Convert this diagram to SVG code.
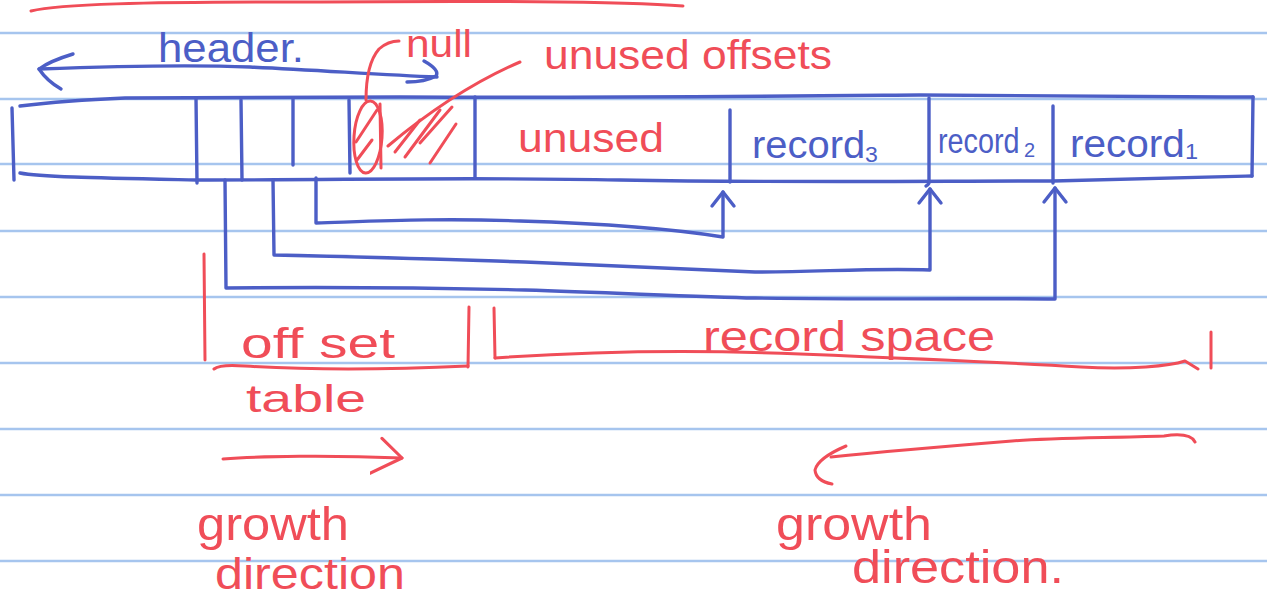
<svg xmlns="http://www.w3.org/2000/svg" width="1267" height="605" viewBox="0 0 1267 605">
  <defs>
    <style>
      .rule { stroke: #a6c5ee; stroke-width: 2.5; fill: none; }
      .blue { fill: none; stroke: #4c5ec6; stroke-width: 3.4; stroke-linecap: round; stroke-linejoin: round; }
      .red { fill: none; stroke: #f04d58; stroke-width: 3; stroke-linecap: round; stroke-linejoin: round; }
      .tblue { fill: #4c5ec6; font-family: "Liberation Sans", "DejaVu Sans", sans-serif; }
      .tred { fill: #f04d58; font-family: "Liberation Sans", "DejaVu Sans", sans-serif; }
    </style>
    <marker id="chevron-blue" markerUnits="userSpaceOnUse" markerWidth="30" markerHeight="30" viewBox="-16 -15 20 30" refX="0" refY="0" orient="auto">
      <path d="M-14,-11 L0,0 L-14,11" fill="none" stroke="#4c5ec6" stroke-width="3.4" stroke-linecap="round" stroke-linejoin="round"/>
    </marker>
    <marker id="chevron-red" markerUnits="userSpaceOnUse" markerWidth="40" markerHeight="50" viewBox="-26 -24 30 48" refX="0" refY="0" orient="auto">
      <path d="M-20,-18 L0,0 L-38,20" fill="none" stroke="#f04d58" stroke-width="3" stroke-linecap="round" stroke-linejoin="round"/>
    </marker>
  </defs>

  <!-- ruled notebook paper -->
  <rect width="1267" height="605" fill="#ffffff"/>
  <g id="paper">
    <line class="rule" x1="0" y1="33" x2="1267" y2="33"/>
    <line class="rule" x1="0" y1="99" x2="1267" y2="99"/>
    <line class="rule" x1="0" y1="164" x2="1267" y2="164"/>
    <line class="rule" x1="0" y1="231" x2="1267" y2="231"/>
    <line class="rule" x1="0" y1="297" x2="1267" y2="297"/>
    <line class="rule" x1="0" y1="363" x2="1267" y2="363"/>
    <line class="rule" x1="0" y1="429" x2="1267" y2="429"/>
    <line class="rule" x1="0" y1="495" x2="1267" y2="495"/>
    <line class="rule" x1="0" y1="561" x2="1267" y2="561"/>
  </g>

  <!-- stray red stroke along the top edge -->
  <path class="red" d="M31,11 C60,4 140,2 300,2 C480,1 620,1 683,6"/>

  <!-- header span -->
  <g id="header">
    <text class="tblue" x="158" y="62" font-size="40" textLength="146" lengthAdjust="spacingAndGlyphs">header.</text>
    <path class="blue" d="M39,69 C120,66 200,65 250,67 C320,70 380,75 437,77"/>
    <path class="blue" d="M73,54 Q50,61 39,69 Q47,81 61,89"/>
    <path class="blue" d="M424,61 Q440,70 436,76 Q425,82 407,82"/>
  </g>

  <!-- page block outline -->
  <g id="page">
    <path class="blue" d="M20,106 C60,101 100,99 125,98 L400,97 C600,98 800,96 920,95 C1050,96 1150,97 1253,97"/>
    <path class="blue" d="M12,108 L14,180"/>
    <path class="blue" d="M1253,97 L1252,176"/>
    <path class="blue" d="M20,173 C40,177 100,178 196,180 C350,180 470,177 620,180 C800,183 930,181 1053,181 C1150,179 1200,177 1252,176"/>
  </g>

  <!-- offset table slots -->
  <g id="offset-slots">
    <path class="blue" d="M196,98 L197,183"/>
    <path class="blue" d="M241,100 L242,180"/>
    <path class="blue" d="M293,98 L293,165"/>
    <path class="blue" d="M349,100 L350,173"/>
    <path class="blue" d="M475,97 L475,178"/>
  </g>

  <!-- null slot and unused offsets -->
  <g id="null-slot">
    <text class="tred" x="406" y="57" font-size="38" textLength="66" lengthAdjust="spacingAndGlyphs">null</text>
    <path class="red" d="M399,41 Q388,41 379,49 Q366,64 366,100"/>
    <ellipse class="red" cx="368" cy="137" rx="14" ry="36" transform="rotate(4 368 137)"/>
    <path class="red" d="M380,104 L381,168" stroke-width="5"/>
    <path class="red" d="M377,110 L356,142"/>
    <path class="red" d="M372,140 L357,160"/>
  </g>
  <g id="unused-offsets">
    <text class="tred" x="544" y="69" font-size="40" textLength="288" lengthAdjust="spacingAndGlyphs">unused offsets</text>
    <path class="red" d="M520,62 Q455,90 388,146"/>
    <path class="red" d="M440,110 L405,157"/>
    <path class="red" d="M452,107 L420,143"/>
    <path class="red" d="M456,124 L430,163"/>
    <path class="red" d="M420,120 L395,152"/>
  </g>

  <!-- free space between the two areas -->
  <g id="unused-space">
    <text class="tred" x="518" y="152" font-size="40" textLength="146" lengthAdjust="spacingAndGlyphs">unused</text>
  </g>

  <!-- records -->
  <g id="record3">
    <path class="blue" d="M730,110 L730,182"/>
    <text class="tblue" x="752" y="158" font-size="38" textLength="126" lengthAdjust="spacingAndGlyphs">record<tspan font-size="22" dy="4">3</tspan></text>
  </g>
  <g id="record2">
    <path class="blue" d="M929,98 L929,180 Q930,184 926,186"/>
    <text class="tblue" font-size="36" transform="translate(938 153) scale(0.8 1)">record</text>
    <text class="tblue" x="1024" y="157" font-size="20">2</text>
  </g>
  <g id="record1">
    <path class="blue" d="M1053,106 L1053,183"/>
    <text class="tblue" x="1070" y="157" font-size="38" textLength="128" lengthAdjust="spacingAndGlyphs">record<tspan font-size="22" dy="2">1</tspan></text>
  </g>

  <!-- offset pointers into record space -->
  <g id="connectors">
    <path class="blue" marker-end="url(#chevron-blue)" d="M316,178 L316,223 C380,221 440,218 520,221 C620,224 680,230 723,237 L723,192"/>
    <path class="blue" marker-end="url(#chevron-blue)" d="M273,180 L274,255 C380,257 460,260 525,262 C620,266 700,270 755,272 C820,272 870,268 930,270 L930,189"/>
    <path class="blue" marker-end="url(#chevron-blue)" d="M225,180 L226,288 C330,287 440,288 525,290 C620,293 700,297 755,298 C900,300 1000,298 1055,299 L1055,188"/>
  </g>

  <!-- offset table bracket -->
  <g id="offset-table">
    <path class="red" d="M204,254 L205,360"/>
    <path class="red" d="M469,307 L468,367"/>
    <path class="red" d="M214,369 Q220,364 245,366 Q340,372 468,366"/>
    <text class="tred" x="241" y="358" font-size="42" textLength="154" lengthAdjust="spacingAndGlyphs">off set</text>
    <text class="tred" x="246" y="412" font-size="38" textLength="120" lengthAdjust="spacingAndGlyphs">table</text>
  </g>

  <!-- record space bracket -->
  <g id="record-space">
    <path class="red" d="M494,308 L495,358"/>
    <path class="red" d="M495,358 C580,352 680,349 800,354 C900,358 1000,362 1081,367 C1130,370 1170,366 1185,361 L1198,369"/>
    <path class="red" d="M1211,332 L1211,368"/>
    <text class="tred" x="703" y="351" font-size="42" textLength="292" lengthAdjust="spacingAndGlyphs">record space</text>
  </g>

  <!-- growth of the offset table -->
  <g id="growth-left">
    <path class="red" marker-end="url(#chevron-red)" d="M223,459 C260,456 330,455 402,458"/>
    <text class="tred" x="197" y="540" font-size="46" textLength="152" lengthAdjust="spacingAndGlyphs">growth</text>
    <text class="tred" x="215" y="589" font-size="44" textLength="190" lengthAdjust="spacingAndGlyphs">direction</text>
  </g>

  <!-- growth of the record space -->
  <g id="growth-right">
    <path class="red" d="M1195,442 Q1190,432 1164,436 C1100,438 1050,438 1012,441 C950,446 880,452 831,457"/>
    <path class="red" d="M846,446 Q818,458 815,470 Q816,481 832,484"/>
    <text class="tred" x="776" y="540" font-size="46" textLength="156" lengthAdjust="spacingAndGlyphs">growth</text>
    <text class="tred" x="852" y="583" font-size="46" textLength="212" lengthAdjust="spacingAndGlyphs">direction.</text>
  </g>
</svg>
